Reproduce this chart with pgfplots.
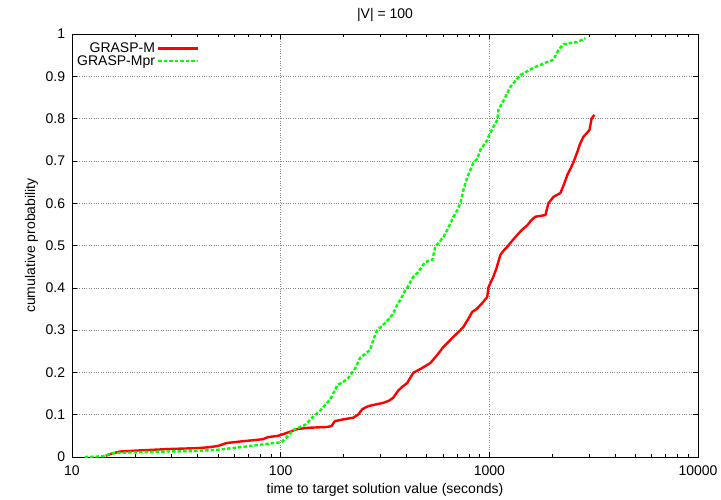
\documentclass[border=0pt]{standalone}
\usepackage{fontspec}
\setmainfont{Liberation Sans}
\usepackage{pgfplots}
\pgfplotsset{compat=1.18}
\begin{document}
\fontsize{14}{16}\selectfont
\begin{tikzpicture}
\begin{axis}[
  scale only axis,
  width=626pt, height=423pt,
  xmode=log, xmin=10, xmax=10000, ymin=0, ymax=1,
  xtick={10,100,1000,10000},
  xticklabels={10,100,1000,10000},
  minor xtick={20,30,40,50,60,70,80,90,200,300,400,500,600,700,800,900,2000,3000,4000,5000,6000,7000,8000,9000},
  ytick={0,0.1,0.2,0.3,0.4,0.5,0.6,0.7,0.8,0.9,1},
  yticklabels={0,0.1,0.2,0.3,0.4,0.5,0.6,0.7,0.8,0.9,1},
  tick align=inside,
  major tick length=5pt, minor tick length=3pt,
  tick style={black, line width=0.6pt},
  grid=major,
  major grid style={gray, dotted, line width=0.6pt},
  axis line style={black, line width=0.8pt},
  xticklabel style={yshift=-4pt},
  yticklabel style={xshift=-2pt},
  /pgf/number format/assume math mode=true,
  title={|V| = 100},
  title style={yshift=2pt},
  xlabel={time to target solution value (seconds)},
  ylabel={cumulative probability},
  xlabel style={yshift=2pt},
  ylabel style={yshift=-2pt},
  legend style={draw=none, fill=none, at={(rel axis cs:0.0,0.99)}, anchor=north west, row sep=-3pt},
  legend cell align=right,
  legend plot pos=right,
  legend image code/.code={\draw[#1] (0pt,0pt) -- (40pt,0pt);},
]
\coordinate (bl) at (rel axis cs:0,0);
\coordinate (tr) at (rel axis cs:1,1);
\addplot[color=red, line width=2.4pt, line join=round] coordinates {
(14.5,0.003) (15.5,0.008) (17,0.013) (20,0.015) (29.5,0.019) (40,0.021) (45,0.023) (50,0.026) (55,0.033) (65,0.037) (75,0.040) (82,0.042) (87,0.047) (97,0.050) (107,0.057) (114,0.062) (120,0.066) (135,0.069) (167,0.071) (175,0.073) (182,0.085) (200,0.089) (223,0.093) (235,0.100) (246,0.113) (262,0.120) (278,0.123) (310,0.128) (330,0.133) (346,0.140) (366,0.157) (385,0.167) (404,0.175) (432,0.199) (475,0.210) (521,0.222) (560,0.240) (602,0.260) (640,0.273) (672,0.284) (710,0.295) (750,0.307) (790,0.325) (828,0.343) (870,0.350) (925,0.364) (977,0.378) (989,0.400) (1020,0.415) (1045,0.426) (1080,0.445) (1130,0.478) (1180,0.490) (1220,0.497) (1280,0.510) (1333,0.520) (1420,0.535) (1522,0.548) (1590,0.560) (1662,0.568) (1858,0.572) (1920,0.600) (2030,0.615) (2190,0.624) (2280,0.645) (2366,0.667) (2450,0.682) (2530,0.697) (2640,0.721) (2720,0.740) (2825,0.757) (3020,0.773) (3090,0.800) (3187,0.809)
};
\addlegendentry{GRASP-M}
\addplot[color=green, line width=2.4pt, dash pattern=on 3.5pt off 2pt] coordinates {
(11.5,0.000) (13,0.001) (14.1,0.002) (15.7,0.009) (21.9,0.012) (38,0.014) (49.6,0.017) (66,0.024) (86,0.031) (101,0.035) (107,0.047) (115,0.064) (131,0.076) (143,0.095) (155,0.110) (160,0.118) (172,0.135) (179,0.151) (187,0.170) (200,0.178) (211,0.187) (228,0.210) (240,0.234) (268,0.253) (278,0.277) (290,0.300) (317,0.317) (343,0.336) (366,0.364) (374,0.371) (396,0.395) (404,0.400) (432,0.426) (452,0.435) (493,0.461) (533,0.466) (551,0.497) (602,0.520) (629,0.537) (672,0.567) (703,0.584) (726,0.600) (751,0.631) (784,0.662) (811,0.678) (837,0.695) (875,0.705) (905,0.726) (977,0.749) (989,0.757) (1045,0.780) (1092,0.797) (1105,0.820) (1193,0.851) (1260,0.875) (1409,0.903) (1626,0.920) (1897,0.934) (2029,0.939) (2143,0.962) (2265,0.976) (2640,0.981) (2885,0.990)
};
\addlegendentry{GRASP-Mpr}
\end{axis}
\pgfresetboundingbox
\path (bl) ++(-72pt,-42pt) coordinate (a);
\path (tr) ++(23pt,34pt) coordinate (b);
\path (a) rectangle (b);
\end{tikzpicture}
\end{document}
